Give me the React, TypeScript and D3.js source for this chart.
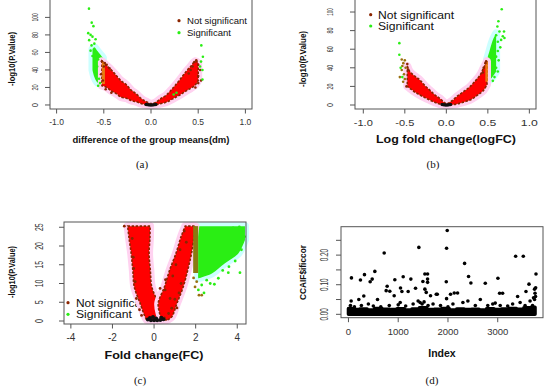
import React, { useEffect, useRef } from 'react';
import * as d3 from 'd3';

const FONT = "'Liberation Sans', Arial, sans-serif";
const SERIF = "'Liberation Serif', 'DejaVu Serif', serif";
const RED = '#ff0000';
const BROWN = '#8b2500';
const OLIVE = '#9a7010';
const GREEN = '#2aee14';
const PINK = '#ffd2f0';
const CYAN = '#ccffff';
const AXIS = '#555';

// ---------- panel (a): difference of the group means ----------
const aXTicks = [-1, -0.5, 0, 0.5, 1];
const aXLabels = ['-1.0', '-0.5', '0.0', '0.5', '1.0'];
const aYTicks = [0, 20, 40, 60, 80, 100];
const aBandX = [-0.52, -0.47, -0.42, -0.37, -0.32, -0.26, -0.21, -0.16, -0.1, -0.05, 0, 0.05, 0.1, 0.16, 0.23, 0.3, 0.37, 0.42, 0.47, 0.5];
const aBandLo = [22, 20, 16, 13, 9, 7.6, 5, 3.8, 1.5, 0.3, 0, 0.3, 1.5, 3, 7, 11, 16, 19, 23, 28];
const aBandHi = [50, 45, 40, 34, 28, 23, 17, 13, 7, 3.8, 1.5, 3, 7, 11, 19, 28, 38, 44, 50, 48];
const aGreenX = [-0.62, -0.6, -0.57, -0.54, -0.51];
const aGreenLo = [40, 32, 26, 24, 22];
const aGreenHi = [64, 66, 62, 58, 54];
const aGreenPts: [number, number][] = [
  [-0.657, 110], [-0.628, 94], [-0.61, 90], [-0.665, 82], [-0.64, 80], [-0.62, 78], [-0.587, 75],
  [-0.655, 74], [-0.6, 70], [-0.63, 68], [-0.58, 60], [-0.64, 62], [-0.62, 56], [-0.56, 52],
  [-0.6, 50], [-0.57, 44], [-0.6, 40], [-0.58, 36], [-0.55, 30], [-0.54, 25], [-0.56, 22],
  [0.533, 68], [0.53, 49.5], [0.545, 40], [0.545, 29], [0.55, 55], [0.52, 44], [0.24, 12], [0.27, 14],
];
const aBrownPts: [number, number][] = [
  [-0.52, 50], [-0.49, 48], [-0.5, 44], [-0.47, 46], [-0.44, 42], [-0.53, 35], [-0.51, 28],
  [-0.48, 18], [-0.42, 14], [0.46, 49], [0.48, 51], [0.5, 46], [0.44, 44], [0.52, 40],
  [0.5, 33], [0.53, 28], [0.47, 20], [0.5, 25], [0.42, 40], [0.4, 36],
];
const aBlackPts: [number, number][] = [[-0.05, 0.5], [-0.03, 0.2], [-0.01, 0], [0.01, 0], [0.03, 0.2], [0.05, 0.5]];

// ---------- panel (b): log fold change ----------
const bXTicks = [-1, -0.5, 0, 0.5, 1];
const bXLabels = ['-1.0', '-0.5', '0.0', '0.5', '1.0'];
const bYTicks = [0, 20, 40, 60, 80, 100];
const bBandX = [-0.47, -0.44, -0.38, -0.32, -0.26, -0.2, -0.14, -0.08, 0, 0.06, 0.125, 0.2, 0.285, 0.35, 0.405, 0.45, 0.49];
const bBandLo = [20, 18, 14, 10.8, 8, 5.4, 3, 1, 0, 0.3, 1, 3, 5.4, 9, 12.6, 16, 22];
const bBandHi = [42, 36, 31, 27, 21, 16, 11, 7.2, 1.5, 4, 9, 14, 19.7, 26, 32, 40, 47];
const bGreenX = [0.49, 0.52, 0.545, 0.57, 0.6];
const bGreenLo = [25, 27, 29, 32, 36];
const bGreenHi = [49, 58, 66, 72, 77];
const bGreenPts: [number, number][] = [
  [0.667, 103], [0.627, 90], [0.615, 84.5], [0.695, 79], [0.64, 79], [0.68, 74], [0.7, 72],
  [0.66, 70], [0.62, 68], [0.6, 75], [0.65, 62], [0.62, 58], [0.6, 52], [0.63, 48], [0.6, 40],
  [0.62, 36], [0.58, 30], [0.56, 26], [-0.566, 66.5], [-0.566, 54], [-0.55, 40], [-0.53, 30],
];
const bOlivePts: [number, number][] = [
  [-0.537, 49], [-0.518, 45], [-0.5, 48], [-0.53, 42], [-0.537, 37.6], [-0.56, 30], [-0.51, 33],
  [-0.49, 40], [-0.52, 25], [-0.5, 28],
];
const bBrownPts: [number, number][] = [
  [-0.47, 44], [-0.48, 20], [-0.46, 38], [0.47, 45], [0.45, 40], [0.48, 47], [0.44, 35],
];
const bBlackPts: [number, number][] = [[-0.05, 0.5], [-0.03, 0.2], [-0.01, 0], [0.01, 0], [0.03, 0.2], [0.05, 0.5]];

// ---------- panel (c): fold change ----------
const cXTicks = [-4, -2, 0, 2, 4];
const cYTicks = [0, 5, 10, 15, 20, 25];
const cLeftY = [0.3, 1.1, 4.7, 9.1, 13.5, 18, 22, 25.3];
const cLeftX0 = [-0.35, -0.43, -0.67, -0.95, -1.02, -1.1, -1.2, -1.27];
const cLeftX1 = [0.45, 0.37, 0.2, -0.11, -0.18, -0.24, -0.2, -0.19];
const cRightY = [0.3, 1.1, 4.7, 9.1, 13.6, 18, 22.5, 25.3];
const cRightX0 = [0.3, 0.3, 0.2, 0.5, 0.75, 1.05, 1.3, 1.5];
const cRightX1 = [0.65, 0.85, 1.1, 1.4, 1.62, 1.8, 1.92, 1.98];
const cOliveY = [12.8, 25.3];
const cOliveX0 = [1.88, 1.88];
const cOliveX1 = [2.12, 2.12];
const cGreenX = [2.12, 2.78, 3.41, 4.05, 4.37];
const cGreenLo = [11.4, 12.7, 15.4, 18, 21.6];
const cGreenHi = [25.3, 25.3, 25.3, 25.3, 25.3];
const cGreenPts: [number, number][] = [
  [2.29, 9.6], [2.53, 10.9], [3.09, 11.4], [3.57, 12.9], [4.13, 12.9], [2.13, 8.3], [2.4, 7.5],
  [2.7, 10], [3.3, 13.5], [3.9, 16], [4.2, 19], [2.9, 9.8], [3.6, 14.5], [2.2, 12], [4.3, 24],
  [4.35, 22.5], [3.8, 24.8], [4.1, 25.1],
];
const cOlivePts: [number, number][] = [[1.97, 9.1], [2.16, 6.9], [2.29, 6.9], [2.05, 10.5], [1.9, 11.5]];
const cBrownPts: [number, number][] = [
  [-1.43, 25.3], [-1.0, 17], [-0.91, 10.5], [-1.05, 22], [-0.98, 14], [-0.85, 6], [-0.7, 3],
  [0.29, 8.7], [0.53, 8.3], [0.77, 6], [0.85, 3.4], [1.1, 3.5], [1.0, 5.8], [0.55, 11], [0.9, 12],
  [1.05, 15], [1.25, 19], [1.45, 24], [1.55, 21], [0.7, 2], [-0.6, 1.5], [0.5, 0.8], [1.2, 7.5], [1.3, 10],
];
const cBlackPts: [number, number][] = [
  [-0.3, 0.4], [-0.15, 0.2], [0, 0.2], [0.15, 0.2], [0.3, 0.3], [0.45, 0.5], [-0.2, 0.8],
  [0.1, 0.7], [0.35, 0.9], [-0.05, 1.1],
];

// ---------- panel (d): CCAIF$ificcor by index ----------
const dXTicks = [0, 1000, 2000, 3000];
const dYTicks = [0, 0.05, 0.1, 0.15, 0.2, 0.25];
const dYLabelled = [0, 0.1, 0.2];
const dBandIdx = [0, 150, 300, 450, 600, 750, 900, 1050, 1200, 1350, 1500, 1650, 1800, 1950, 2100, 2250, 2400, 2550, 2700, 2850, 3000, 3150, 3300, 3450, 3600, 3750];
const dBandTop = [0.02, 0.016, 0.018, 0.015, 0.02, 0.017, 0.016, 0.019, 0.015, 0.018, 0.022, 0.016, 0.017, 0.02, 0.015, 0.018, 0.016, 0.017, 0.015, 0.019, 0.016, 0.018, 0.02, 0.017, 0.022, 0.024];
const dPts: [number, number][] = [
  [60, 0.123], [54, 0.045], [241, 0.116], [322, 0.134], [308, 0.062], [208, 0.05], [436, 0.11],
  [477, 0.119], [530, 0.145], [584, 0.05], [718, 0.207], [778, 0.095], [758, 0.08], [831, 0.078],
  [919, 0.063], [932, 0.117], [1046, 0.089], [1100, 0.127], [1074, 0.077], [1200, 0.077],
  [1254, 0.119], [1348, 0.088], [1415, 0.226], [1496, 0.111], [1536, 0.136], [1590, 0.136],
  [1590, 0.119], [1590, 0.108], [1536, 0.085], [1563, 0.074], [1650, 0.063], [1765, 0.068],
  [1785, 0.068], [1985, 0.283], [1972, 0.223], [1966, 0.11], [1972, 0.053], [2052, 0.068],
  [2126, 0.072], [2193, 0.072], [2334, 0.172], [2414, 0.128], [2461, 0.106], [2750, 0.105],
  [3004, 0.122], [3038, 0.071], [3098, 0.071], [3360, 0.196], [3514, 0.196], [3400, 0.06],
  [3628, 0.102], [3568, 0.077], [3769, 0.136], [3762, 0.09], [3740, 0.085], [3750, 0.071], [3720, 0.056],
  [40, 0.03], [120, 0.025], [260, 0.03], [400, 0.035], [500, 0.028], [650, 0.025], [820, 0.03],
  [1000, 0.032], [1040, 0.04], [1150, 0.028], [1300, 0.035], [1400, 0.045], [1440, 0.04],
  [1480, 0.035], [1520, 0.042], [1600, 0.03], [1700, 0.035], [1850, 0.03], [2000, 0.025],
  [2100, 0.035], [2300, 0.04], [2400, 0.045], [2550, 0.03], [2650, 0.05], [2800, 0.03],
  [2900, 0.035], [2950, 0.038], [3050, 0.03], [3200, 0.028], [3300, 0.035], [3450, 0.04],
  [3550, 0.03], [3650, 0.045], [3700, 0.03], [3760, 0.06], [3740, 0.05],
];

type Sel = d3.Selection<SVGGElement, unknown, null, undefined>;
type Scale = d3.ScaleLinear<number, number>;

function txt(g: Sel, s: string, x: number, y: number, o: any) {
  const t = g.append('text').attr('x', x).attr('y', y).text(s)
    .attr('font-size', o.size)
    .attr('font-family', o.family || FONT)
    .attr('text-anchor', o.anchor || 'middle')
    .attr('fill', o.color || '#111');
  if (o.bold) t.attr('font-weight', 'bold');
  if (o.len) t.attr('textLength', o.len).attr('lengthAdjust', 'spacingAndGlyphs');
  if (o.rotate) t.attr('transform', `rotate(-90 ${x} ${y})`);
  return t;
}

function frame(g: Sel, x: Scale, y: Scale) {
  const [l, r] = x.range();
  const [b, t] = y.range();
  g.append('rect').attr('x', l).attr('y', t).attr('width', r - l).attr('height', b - t)
    .attr('fill', 'none').attr('stroke', AXIS).attr('stroke-width', 1);
}

function xAxis(g: Sel, x: Scale, y0: number, ticks: number[], labels: string[], labelY: number, size: number, lens?: number[]) {
  ticks.forEach((v, i) => {
    g.append('line').attr('x1', x(v)).attr('x2', x(v)).attr('y1', y0).attr('y2', y0 + 4.5)
      .attr('stroke', AXIS);
    if (labels[i] !== '') txt(g, labels[i], x(v), labelY, { size, color: '#333', len: lens ? lens[i] : undefined });
  });
}

function yAxis(g: Sel, y: Scale, x0: number, ticks: number[], labels: string[], labelX: number, size: number, lens?: number[]) {
  ticks.forEach((v, i) => {
    g.append('line').attr('x1', x0 - 5).attr('x2', x0).attr('y1', y(v)).attr('y2', y(v))
      .attr('stroke', AXIS);
    if (labels[i] !== '') txt(g, labels[i], labelX, y(v), { size, color: '#333', rotate: true, len: lens ? lens[i] : undefined });
  });
}

function dots(g: Sel, x: Scale, y: Scale, pts: [number, number][], color: string, r: number) {
  g.selectAll(null).data(pts).enter().append('circle')
    .attr('cx', d => x(d[0])).attr('cy', d => y(d[1])).attr('r', r).attr('fill', color);
}

// band running along x with a low and high edge
function bandX(g: Sel, x: Scale, y: Scale, xs: number[], lo: number[], hi: number[], fill: string, halo: string | null, edge: string | null) {
  const area = d3.area<number>()
    .x((_, i) => x(xs[i])).y0((_, i) => y(lo[i])).y1((_, i) => y(hi[i]))
    .curve(d3.curveCatmullRom);
  if (halo) {
    g.append('path').datum(xs).attr('d', area).attr('fill', halo).attr('stroke', halo)
      .attr('stroke-width', 8).attr('stroke-linejoin', 'round');
  }
  g.append('path').datum(xs).attr('d', area).attr('fill', fill)
    .attr('stroke', edge || 'none').attr('stroke-width', 1.6).attr('stroke-dasharray', '2.5 1.5');
}

// band running along y with a left and right edge
function bandY(g: Sel, x: Scale, y: Scale, ys: number[], x0: number[], x1: number[], fill: string, halo: string | null, edge: string | null) {
  const area = d3.area<number>()
    .y((_, i) => y(ys[i])).x0((_, i) => x(x0[i])).x1((_, i) => x(x1[i]))
    .curve(d3.curveCatmullRom);
  if (halo) {
    g.append('path').datum(ys).attr('d', area).attr('fill', halo).attr('stroke', halo)
      .attr('stroke-width', 8).attr('stroke-linejoin', 'round');
  }
  g.append('path').datum(ys).attr('d', area).attr('fill', fill)
    .attr('stroke', edge || 'none').attr('stroke-width', 1.6).attr('stroke-dasharray', '2.5 1.5');
}

function legend(g: Sel, lx: number, ly: number[], tx: number, size: number, lens: number[]) {
  const items = ['Not significant', 'Significant'];
  const cols = [BROWN, GREEN];
  items.forEach((s, i) => {
    g.append('circle').attr('cx', lx).attr('cy', ly[i]).attr('r', 1.6).attr('fill', cols[i]);
    txt(g, s, tx, ly[i] + size * 0.36, { size, anchor: 'start', len: lens[i] });
  });
}

const App = () => {
  const ref = useRef<SVGSVGElement>(null);

  useEffect(() => {
    const svg = d3.select(ref.current);
    svg.selectAll('*').remove();
    const root = svg.append('g') as unknown as Sel;

    // ---- (a)
    {
      const g = root.append('g') as Sel;
      const x = d3.scaleLinear().domain([-1.07, 1.07]).range([50, 252]);
      const y = d3.scaleLinear().domain([-4.6, 121]).range([109, -1]);
      bandX(g, x, y, aGreenX, aGreenLo, aGreenHi, GREEN, CYAN, null);
      bandX(g, x, y, aBandX, aBandLo, aBandHi, RED, PINK, BROWN);
      g.append('rect').attr('x', x(-0.52)).attr('y', y(49)).attr('width', 3).attr('height', y(24) - y(49)).attr('fill', '#e87a10');
      dots(g, x, y, aBrownPts, BROWN, 1.3);
      dots(g, x, y, aGreenPts, GREEN, 1.3);
      dots(g, x, y, aBlackPts, '#111', 1.8);
      frame(g, x, y);
      xAxis(g, x, 109, aXTicks, aXLabels, 125, 8.5);
      yAxis(g, y, 50, aYTicks, aYTicks.map(String), 38, 9, [4.3, 6.3, 6.3, 6.3, 6.3, 8.3]);
      legend(g, 179, [20.7, 32.7], 187, 9, [60, 44]);
      txt(g, 'difference of the group means(dm)', 151, 143, { size: 9, bold: true, len: 157 });
      txt(g, '-log10(P.Value)', 15, 59, { size: 9, bold: true, rotate: true, len: 54 });
      txt(g, '(a)', 142, 168, { size: 11, family: SERIF });
    }

    // ---- (b)
    {
      const g = root.append('g') as Sel;
      const x = d3.scaleLinear().domain([-1.1, 1.08]).range([355, 536]);
      const y = d3.scaleLinear().domain([-4.3, 114]).range([109, -1]);
      bandX(g, x, y, bGreenX, bGreenLo, bGreenHi, GREEN, CYAN, null);
      bandX(g, x, y, bBandX, bBandLo, bBandHi, RED, PINK, BROWN);
      g.append('rect').attr('x', x(0.47)).attr('y', y(47)).attr('width', 2.5).attr('height', y(25) - y(47)).attr('fill', '#e87a10');
      dots(g, x, y, bOlivePts, OLIVE, 1.3);
      dots(g, x, y, bBrownPts, BROWN, 1.3);
      dots(g, x, y, bGreenPts, GREEN, 1.3);
      dots(g, x, y, bBlackPts, '#111', 1.8);
      frame(g, x, y);
      xAxis(g, x, 109, bXTicks, bXLabels, 126, 9.5, [19, 19, 17, 17, 17]);
      yAxis(g, y, 355, bYTicks, bYTicks.map(String), 333, 9.5, [4, 6, 6, 6, 6, 7.7]);
      legend(g, 370.7, [14.7, 26], 378, 11, [76, 56]);
      txt(g, 'Log fold change(logFC)', 446, 143, { size: 10, bold: true, len: 140 });
      txt(g, '-log10(P.Value)', 306, 59, { size: 9, bold: true, rotate: true, len: 56 });
      txt(g, '(b)', 433, 168, { size: 11, family: SERIF });
    }

    // ---- (c)
    {
      const g = root.append('g') as Sel;
      const x = d3.scaleLinear().domain([-4.33, 4.42]).range([64, 246]);
      const y = d3.scaleLinear().domain([-0.8, 26.4]).range([324, 222]);
      legend(g, 68, [302.7, 314.3], 76, 11.5, [75, 56]);
      bandX(g, x, y, cGreenX, cGreenLo, cGreenHi, GREEN, CYAN, null);
      bandY(g, x, y, cLeftY, cLeftX0, cLeftX1, RED, PINK, BROWN);
      bandY(g, x, y, cRightY, cRightX0, cRightX1, RED, PINK, BROWN);
      bandY(g, x, y, cOliveY, cOliveX0, cOliveX1, '#8a7a10', null, null);
      dots(g, x, y, cBrownPts, BROWN, 1.4);
      dots(g, x, y, cOlivePts, OLIVE, 1.4);
      dots(g, x, y, cGreenPts, GREEN, 1.4);
      dots(g, x, y, cBlackPts, '#111', 2);
      frame(g, x, y);
      xAxis(g, x, 324, cXTicks, cXTicks.map(String), 341, 10);
      yAxis(g, y, 64, cYTicks, cYTicks.map(String), 43, 10, [4, 4, 7.7, 7.7, 7.7, 7.7]);
      txt(g, 'Fold change(FC)', 154, 359, { size: 11, bold: true, len: 99 });
      txt(g, '-log10(P.Value)', 15, 272, { size: 9, bold: true, rotate: true, len: 52 });
      txt(g, '(c)', 140, 384, { size: 11, family: SERIF });
    }

    // ---- (d)
    {
      const g = root.append('g') as Sel;
      const x = d3.scaleLinear().domain([-150, 3910]).range([341, 543]);
      const y = d3.scaleLinear().domain([-0.0114, 0.296]).range([317.7, 226.7]);
      const area = d3.area<number>()
        .x((_, i) => x(dBandIdx[i])).y0(() => y(0)).y1((_, i) => y(dBandTop[i]))
        .curve(d3.curveStep);
      g.append('path').datum(dBandIdx).attr('d', area).attr('fill', '#000')
        .attr('stroke', '#000').attr('stroke-width', 3.5).attr('stroke-linejoin', 'round');
      dots(g, x, y, dPts, '#000', 1.8);
      frame(g, x, y);
      xAxis(g, x, 317.7, dXTicks, dXTicks.map(String), 335, 9.5);
      yAxis(g, y, 341, dYTicks, dYTicks.map(v => (dYLabelled.includes(v) ? v.toFixed(2) : '')), 328, 10,
        dYTicks.map(() => 12.5));
      txt(g, 'Index', 442, 357, { size: 10.5, bold: true });
      txt(g, 'CCAIF$ificcor', 306, 272.5, { size: 9.5, bold: true, rotate: true, len: 55 });
      txt(g, '(d)', 432, 384, { size: 11, family: SERIF });
    }
  }, []);

  return (
    <svg ref={ref} width={550} height={389}
      style={{ position: 'absolute', left: 0, top: 0, background: '#fff' }} />
  );
};

export default App;
